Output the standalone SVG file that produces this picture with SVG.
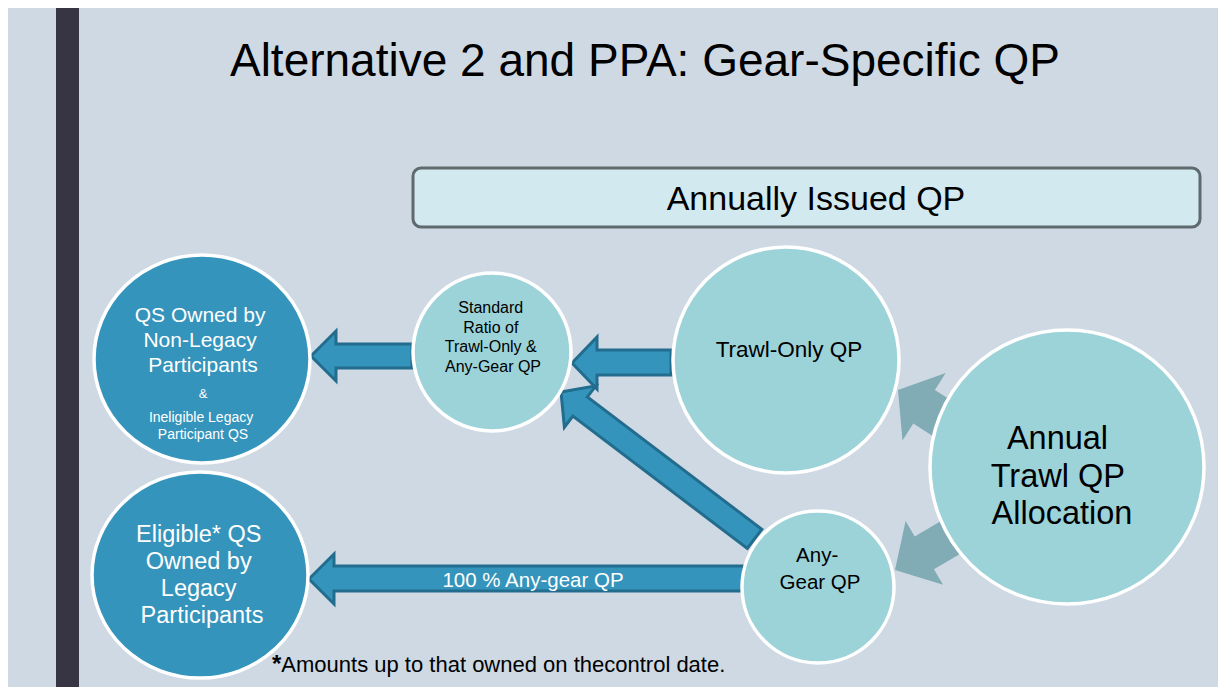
<svg xmlns="http://www.w3.org/2000/svg" width="1218" height="687" viewBox="0 0 1218 687">
  <style>
    .bg { fill: #CED9E4; }
    .dark { fill: #3594BB; stroke: #FFFFFF; stroke-width: 3.5; }
    .light { fill: #9CD3D9; stroke: #FFFFFF; stroke-width: 3.5; }
    .blue-arrow { fill: #3594BB; stroke: #226D8E; stroke-width: 3; stroke-linejoin: miter; }
    .grey-arrow { fill: #81ABB5; stroke: none; }
    text { font-family: "Liberation Sans", Arial, sans-serif; }
    .c { text-anchor: middle; }
    .s { text-anchor: start; }
    .w { fill: #FFFFFF; }
    .k { fill: #000000; }
  </style>

  <!-- slide background and side bar -->
  <rect x="0" y="0" width="1218" height="687" fill="#FFFFFF"/>
  <rect class="bg" x="8" y="8" width="1210" height="679"/>
  <rect x="56" y="8" width="23" height="679" fill="#373443"/>

  <text class="k c" x="645" y="76" font-size="46">Alternative 2 and PPA: Gear-Specific QP</text>

  <!-- connectors (drawn beneath the circles) -->
  <g id="connectors">
    <!-- allocation feeds trawl-only and any-gear pools -->
    <path class="grey-arrow" transform="translate(898,390) rotate(32.7)" d="M0,0 L31,-40 L31,-20 L110,-20 L110,20 L31,20 L31,40 Z"/>
    <path class="grey-arrow" transform="translate(895,570) rotate(-30.4)" d="M0,0 L34,-37 L34,-19 L110,-19 L110,19 L34,19 L34,37 Z"/>
    <!-- standard ratio to non-legacy QS -->
    <path class="blue-arrow" d="M311,356 L336,331 L336,344 L412,344 L412,368 L336,368 L336,381 Z"/>
    <!-- trawl-only to standard ratio -->
    <path class="blue-arrow" d="M572,363 L597,337 L597,350 L671,350 L671,375 L597,375 L597,389 Z"/>
    <!-- any-gear to standard ratio -->
    <path class="blue-arrow" transform="translate(561,392) rotate(37.2)" d="M0,0 L24,-26 L24,-12 L243,-12 L243,12 L24,12 L24,26 Z"/>
    <!-- any-gear to eligible legacy QS -->
    <path class="blue-arrow" d="M309,579 L334,554 L334,566 L744,566 L744,591 L334,591 L334,604 Z"/>
    <text class="w c" x="533" y="587" font-size="20.5">100 % Any-gear QP</text>
  </g>

  <g id="annually-issued">
    <rect x="413" y="168" width="787" height="59" rx="8" fill="#D3E9F0" stroke="#5E6A6D" stroke-width="3"/>
    <text class="k c" x="816" y="210" font-size="34">Annually Issued QP</text>
  </g>

  <g id="non-legacy">
    <ellipse class="dark" cx="202" cy="359" rx="108" ry="104"/>
    <text class="w c" font-size="21">
      <tspan x="203" y="322">QS Owned by</tspan>
      <tspan x="203" y="347">Non-Legacy</tspan>
      <tspan x="203" y="372">Participants</tspan>
    </text>
    <text class="w c" x="203" y="398" font-size="13">&amp;</text>
    <text class="w c" font-size="14">
      <tspan x="203" y="422">Ineligible Legacy</tspan>
      <tspan x="203" y="439">Participant  QS</tspan>
    </text>
  </g>

  <g id="eligible-legacy">
    <ellipse class="dark" cx="200" cy="575" rx="108" ry="103"/>
    <text class="w c" font-size="23.5">
      <tspan x="202" y="542">Eligible* QS</tspan>
      <tspan x="202" y="569">Owned by</tspan>
      <tspan x="202" y="596">Legacy</tspan>
      <tspan x="202" y="623">Participants</tspan>
    </text>
  </g>

  <g id="standard-ratio">
    <circle class="light" cx="492" cy="352" r="79"/>
    <text class="k c" font-size="16">
      <tspan x="493" y="313">Standard</tspan>
      <tspan x="493" y="333">Ratio of</tspan>
      <tspan x="493" y="352">Trawl-Only &amp;</tspan>
      <tspan x="493" y="372">Any-Gear QP</tspan>
    </text>
  </g>

  <g id="trawl-only">
    <circle class="light" cx="786" cy="360" r="113"/>
    <text class="k c" x="789" y="357" font-size="22.5">Trawl-Only QP</text>
  </g>

  <g id="any-gear">
    <circle class="light" cx="818" cy="587" r="76"/>
    <text class="k c" font-size="20.5">
      <tspan x="820" y="562">Any-</tspan>
      <tspan x="820" y="589">Gear QP</tspan>
    </text>
  </g>

  <g id="allocation">
    <circle class="light" cx="1067" cy="467" r="137"/>
    <text class="k c" font-size="32.5">
      <tspan x="1062" y="449">Annual</tspan>
      <tspan x="1062" y="487">Trawl QP</tspan>
      <tspan x="1062" y="524">Allocation</tspan>
    </text>
  </g>

  <text class="k s" x="272" y="672" font-size="22"><tspan font-size="24" font-weight="bold">*</tspan>Amounts up to that owned on thecontrol date.</text>
</svg>
